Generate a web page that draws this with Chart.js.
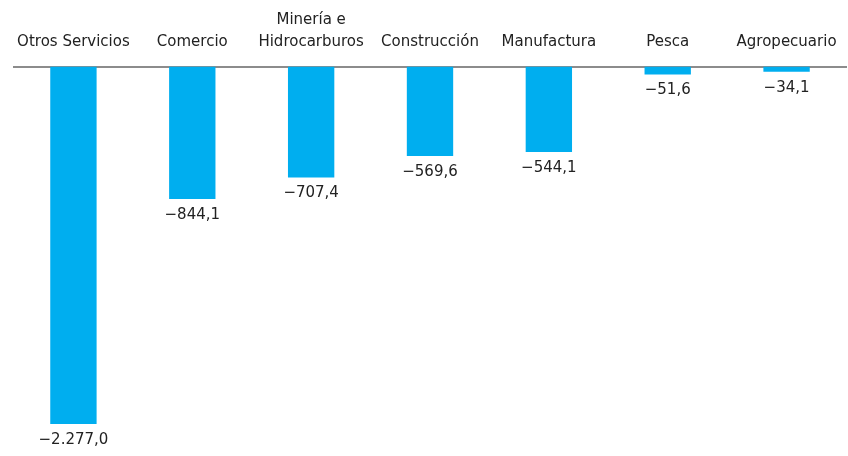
<!DOCTYPE html>
<html>
<head>
<meta charset="utf-8">
<script src="https://cdn.jsdelivr.net/npm/chart.js@4"></script>
<style>
  html, body { margin: 0; padding: 0; background: #fff; }
  #wrap { width: 848px; height: 456px; }
</style>
</head>
<body>
<div id="wrap"><canvas id="sectorChart"></canvas></div>
<script>
var categories = ['Otros Servicios', 'Comercio', ['Minería e', 'Hidrocarburos'], 'Construcción', 'Manufactura', 'Pesca', 'Agropecuario'];
var values = [-2277.0, -844.1, -707.4, -569.6, -544.1, -51.6, -34.1];

function fmt(v) {
    var s = Math.abs(v).toFixed(1).split('.');
    var ent = s[0].replace(/\B(?=(\d{3})+(?!\d))/g, '.');
    return '\u2212' + ent + ',' + s[1];
}

// etiquetas debajo de cada barra
var valueLabels = {
    id: 'valueLabels',
    afterDatasetsDraw: function (chart) {
        var ctx = chart.ctx;
        var meta = chart.getDatasetMeta(0);
        ctx.save();
        ctx.font = '15px "DejaVu Sans"';
        ctx.fillStyle = '#222';
        ctx.textAlign = 'center';
        ctx.textBaseline = 'middle';
        meta.data.forEach(function (bar, i) {
            ctx.fillText(fmt(values[i]), bar.x, bar.y + 16);
        });
        ctx.restore();
    }
};

var ctx = document.getElementById('sectorChart').getContext('2d');
window.SectorChart = new Chart(ctx, {
    type: 'bar',
    data: {
        labels: categories,
        datasets: [{
            data: values,
            backgroundColor: '#00aeef',
            barPercentage: 0.39,
            categoryPercentage: 1
        }]
    },
    options: {
        responsive: true,
        maintainAspectRatio: false,
        animation: false,
        layout: { padding: { left: 14, right: 2, top: 3, bottom: 0 } },
        plugins: {
            legend: { display: false },
            tooltip: { enabled: false }
        },
        scales: {
            x: {
                position: 'top',
                grid: { display: false },
                border: { display: true, color: '#8c8c8c', width: 2 },
                ticks: {
                    color: '#222',
                    padding: 6,
                    maxRotation: 0,
                    autoSkip: false,
                    font: { family: 'DejaVu Sans', size: 15, lineHeight: 1.45 }
                }
            },
            y: {
                display: false,
                min: -2480,
                max: 0
            }
        }
    },
    plugins: [valueLabels]
});
</script>
</body>
</html>
